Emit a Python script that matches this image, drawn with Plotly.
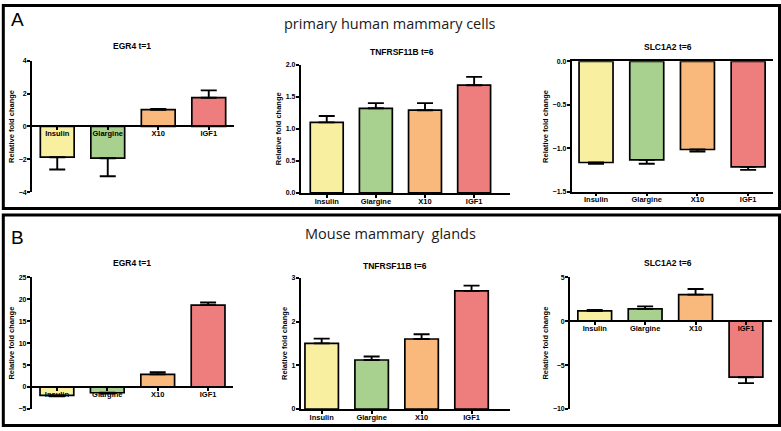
import plotly.graph_objects as go

# ---------------- data ----------------
categories = ["Insulin", "Glargine", "X10", "IGF1"]
bar_colors = ["#f8f0a0", "#a8d08e", "#f9b97c", "#ee7d7e"]

human_egr4 = [-1.87, -1.93, 1.02, 1.75]
human_egr4_err = [0.75, 1.10, 0.05, 0.45]
human_tnf = [1.10, 1.32, 1.29, 1.68]
human_tnf_err = [0.10, 0.08, 0.11, 0.13]
human_slc = [-1.165, -1.135, -1.015, -1.215]
human_slc_err = [0.015, 0.045, 0.025, 0.035]

mouse_egr4 = [-1.90, -1.30, 2.90, 18.65]
mouse_egr4_err = [0.20, 0.20, 0.50, 0.60]
mouse_tnf = [1.50, 1.12, 1.60, 2.70]
mouse_tnf_err = [0.11, 0.08, 0.11, 0.12]
mouse_slc = [1.16, 1.39, 3.02, -6.38]
mouse_slc_err = [0.12, 0.29, 0.64, 0.67]

titles = ["EGR4 t=1", "TNFRSF11B t=6", "SLC1A2 t=6"]
panel_titles = ["primary human mammary cells", "Mouse mammary\u00a0 glands"]
panel_letters = ["A", "B"]
y_title = "Relative fold change"

W, H = 781, 431
FONT = "Liberation Sans, Arial, sans-serif"

def fx(px):
    return px / W

def fy(py):
    return 1 - py / H

panels = [
    dict(vals=human_egr4, err=human_egr4_err, xd=(32, 234), yp=(191.3, 57.7), yr=(-4, 4), xr=(-0.5, 3.5),
         dtick=2, fmt="d", mode="zero", title=titles[0], tpos=(132, 43)),
    dict(vals=human_tnf, err=human_tnf_err, xd=(300.7, 510), yp=(192, 61.7), yr=(0, 2), xr=(-0.53, 3.73),
         dtick=0.5, fmt=".1f", mode="bottom", title=titles[1], tpos=(402, 49)),
    dict(vals=human_slc, err=human_slc_err, xd=(571.7, 773), yp=(190.7, 58.3), yr=(-1.5, 0), xr=(-0.48, 3.49),
         dtick=0.5, fmt=".1f", mode="mirror", title=titles[2], tpos=(668, 44)),
    dict(vals=mouse_egr4, err=mouse_egr4_err, xd=(31.7, 233.3), yp=(411.7, 277.7), yr=(-5, 25), xr=(-0.5, 3.5),
         dtick=5, fmt="d", mode="zero", title=titles[0], tpos=(132, 263.3)),
    dict(vals=mouse_tnf, err=mouse_tnf_err, xd=(300.7, 510), yp=(411.7, 278.3), yr=(0, 3), xr=(-0.42, 3.77),
         dtick=1, fmt="d", mode="bottom", title=titles[1], tpos=(395, 266)),
    dict(vals=mouse_slc, err=mouse_slc_err, xd=(570, 771.7), yp=(411.7, 277.7), yr=(-10, 5), xr=(-0.49, 3.51),
         dtick=5, fmt="d", mode="zero", title=titles[2], tpos=(668, 263.3)),
]

fig = go.Figure()
layout = dict(
    width=W, height=H,
    margin=dict(l=0, r=0, t=0, b=0),
    paper_bgcolor="white", plot_bgcolor="white",
    showlegend=False, bargap=0.33,
    font=dict(family=FONT, color="black"),
)
annotations = []
shapes = []

tickfont = dict(family=FONT, size=7.5, color="black", weight="bold")

for i, p in enumerate(panels):
    n = i + 1
    xa = "x" if n == 1 else f"x{n}"
    ya = "y" if n == 1 else f"y{n}"
    xkey = "xaxis" if n == 1 else f"xaxis{n}"
    ykey = "yaxis" if n == 1 else f"yaxis{n}"
    up = [e if v >= 0 else 0 for v, e in zip(p["vals"], p["err"])]
    down = [e if v < 0 else 0 for v, e in zip(p["vals"], p["err"])]
    fig.add_trace(go.Bar(
        x=categories, y=p["vals"], xaxis=xa, yaxis=ya,
        marker=dict(color=bar_colors, line=dict(color="black", width=1.7)),
        error_y=dict(type="data", symmetric=False, array=up, arrayminus=down,
                     color="black", thickness=1.9, width=8),
        hoverinfo="skip",
    ))
    ydom = [fy(p["yp"][0]), fy(p["yp"][1])]
    xdom = [fx(p["xd"][0]), fx(p["xd"][1])]
    y0, y1 = p["yr"]
    xaxis = dict(domain=xdom, range=list(p["xr"]), type="category",
                 showline=True, linecolor="black", linewidth=1.7,
                 ticks="outside", ticklen=3, tickwidth=1.5, tickcolor="black",
                 ticklabelstandoff=-3,
                 tickfont=tickfont, showgrid=False, zeroline=False, fixedrange=True)
    if p["mode"] == "zero":
        xaxis["anchor"] = "free"
        xaxis["position"] = ydom[0] + (0 - y0) / (y1 - y0) * (ydom[1] - ydom[0])
    else:
        xaxis["anchor"] = ya
        if p["mode"] == "mirror":
            xaxis["mirror"] = True
    layout[xkey] = xaxis
    layout[ykey] = dict(domain=ydom, range=[y0, y1], anchor=xa,
                        showline=True, linecolor="black", linewidth=1.7,
                        ticks="outside", ticklen=3, tickwidth=1.5, tickcolor="black",
                        dtick=p["dtick"], tick0=0, tickformat=p["fmt"],
                        ticklabelstandoff=-1,
                        tickfont=dict(family=FONT, size=7, color="black", weight="bold"),
                        title=dict(text=y_title, standoff=3,
                                   font=dict(family=FONT, size=7.5, color="black", weight="bold")),
                        showgrid=False, zeroline=False, fixedrange=True)
    annotations.append(dict(text=f"<b>{p['title']}</b>", x=fx(p["tpos"][0]), y=fy(p["tpos"][1]),
                            xref="paper", yref="paper", xanchor="center", yanchor="middle",
                            showarrow=False, font=dict(family=FONT, size=8.5, color="black")))

frames = [(1.5, 208.0), (214.5, 428.5)]
letter_pos = [(17, 16), (17, 237)]
title_pos = [(390, 20), (391, 233)]
for k in range(2):
    shapes.append(dict(type="rect", xref="paper", yref="paper",
                       x0=fx(3.3), x1=fx(779.5), y0=fy(frames[k][1]), y1=fy(frames[k][0]),
                       line=dict(color="black", width=3), fillcolor="rgba(0,0,0,0)"))
    annotations.append(dict(text=panel_letters[k], x=fx(letter_pos[k][0]), y=fy(letter_pos[k][1]),
                            xref="paper", yref="paper", xanchor="center", yanchor="middle",
                            showarrow=False, font=dict(family=FONT, size=19, color="black")))
    annotations.append(dict(text=panel_titles[k], x=fx(title_pos[k][0]), y=fy(title_pos[k][1]),
                            xref="paper", yref="paper", xanchor="center", yanchor="middle",
                            showarrow=False, font=dict(family="Open Sans, sans-serif", size=14.5, color="#1a1a1a")))

layout["annotations"] = annotations
layout["shapes"] = shapes
fig.update_layout(**layout)
fig.write_html("out.html", config={"displayModeBar": False},
               post_script="document.body.style.margin='0';document.body.style.overflow='hidden';")
